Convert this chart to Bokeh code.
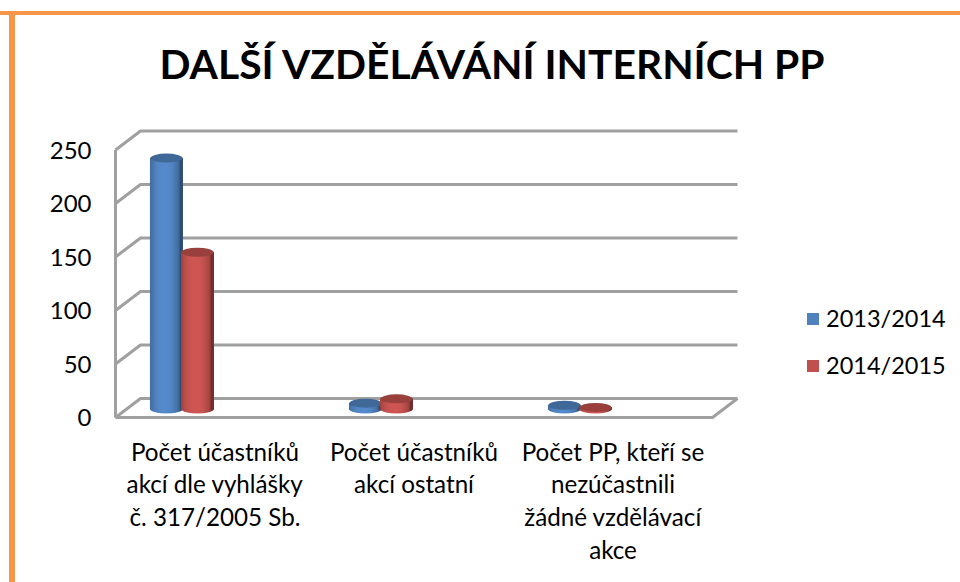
import math
from bokeh.plotting import figure
from bokeh.models import Range1d, Legend, LegendItem, Title, FixedTicker, ColumnDataSource
from bokeh.core.properties import value
from bokeh.embed import file_html
from bokeh.resources import INLINE

title_text = "DALŠÍ VZDĚLÁVÁNÍ INTERNÍCH PP"
categories = ["Počet účastníků\nakcí dle vyhlášky\nč. 317/2005 Sb.",
              "Počet účastníků\nakcí ostatní",
              "Počet PP, kteří se\nnezúčastnili\nžádné vzdělávací\nakce"]
series_names = ["2013/2014", "2014/2015"]
values_2013 = [234, 5, 3]
values_2014 = [146, 9, 1]
y_ticks = [0, 50, 100, 150, 200, 250]

BLUE = (79, 129, 189)
RED = (192, 80, 77)
GRID = "#a0a0a0"
FONT = "Lato"
ORANGE = "#F79646"

W, H = 960, 582
FL, FT = 97, 92            # frame left / top in canvas px
FW, FH = W - FL, H - FT
XPX, YPX = 199.0, 1.07     # px per category, px per unit
x0 = 214.5 - FL            # px of category 0 in the frame
y0 = 417 - FT              # px of value 0 in the frame
x_range = Range1d(-x0 / XPX, (FW - x0) / XPX)
y_range = Range1d(-(FH - y0) / YPX, y0 / YPX)

p = figure(width=W, height=H, x_range=x_range, y_range=y_range, output_backend="svg",
           toolbar_location=None, min_border_left=FL, min_border_right=0,
           min_border_top=FT, min_border_bottom=0, outline_line_color=None,
           border_fill_color=None, background_fill_color=None)
p.styles = {
    "background": f"linear-gradient({ORANGE},{ORANGE}) 0 11px/100% 4px no-repeat, "
                  f"linear-gradient({ORANGE},{ORANGE}) 9px 11px/6px 100% no-repeat",
}
p.grid.visible = False
p.xaxis.visible = False

ax = p.yaxis[0]
ax.ticker = FixedTicker(ticks=y_ticks)
ax.axis_line_color = None
ax.major_tick_line_color = None
ax.minor_tick_line_color = None
ax.major_label_text_font = FONT
ax.major_label_text_font_size = "24px"
ax.major_label_text_color = "#000000"
ax.major_label_standoff = 0

p.add_layout(Title(text=title_text, text_font=FONT, text_font_style="bold",
                   text_font_size="40.8px", text_color="#000000", align="left",
                   offset=62), "above")

dx, dy = 25 / XPX, 19 / YPX
xl, xr = -0.5, 2.5
xs, ys = [], []
for t in y_ticks:
    xs.append([xl, xl + dx, xr + dx]); ys.append([t, t + dy, t + dy])
xs.append([xl, xl]); ys.append([y_ticks[0], y_ticks[-1]])
xs.append([xl, xr, xr + dx]); ys.append([0, 0, dy])
p.multi_line(xs, ys, line_color=GRID, line_width=3)


def shade(rgb, f):
    return "#%02x%02x%02x" % tuple(min(255, int(c * f)) for c in rgb)


def cylinder(center, val, rgb):
    w, eh, base = 32 / XPX, 9 / YPX, 9 / YPX
    n = 32
    d = dict(left=[], right=[], top=[], bottom=[], color=[])
    for k in range(n):
        u0, u1 = -1 + 2 * k / n, -1 + 2 * (k + 1) / n
        um = (u0 + u1) / 2
        s = math.sqrt(max(0.0, 1 - um * um))
        d["left"].append(center + w / 2 * u0)
        d["right"].append(center + w / 2 * u1)
        d["top"].append(base + val)
        d["bottom"].append(base - eh / 2 * s)
        d["color"].append(shade(rgb, 0.60 + 0.48 * math.sqrt(max(0.0, 1 - (um + 0.1) ** 2))))
    p.quad(source=ColumnDataSource(d), left="left", right="right", top="top", bottom="bottom",
           fill_color="color", line_color="color", line_width=1)
    p.ellipse([center], [base + val], width=w, height=eh, fill_color=shade(rgb, 0.8), line_color=None)


for i in range(len(categories)):
    cylinder(i - 0.244, values_2013[i], BLUE)
    cylinder(i - 0.088, values_2014[i], RED)

p.text(list(range(len(categories))), [-17.8] * len(categories), text=categories,
       text_font=value(FONT), text_font_size="24.2px", text_align="center",
       text_baseline="top", text_line_height=1.13, text_color="#000000")

nan = float("nan")
r1 = p.quad(left=[nan], right=[nan], top=[nan], bottom=[nan], fill_color=shade(BLUE, 1), line_color=None)
r2 = p.quad(left=[nan], right=[nan], top=[nan], bottom=[nan], fill_color=shade(RED, 1), line_color=None)
legend = Legend(items=[LegendItem(label=series_names[0], renderers=[r1]),
                       LegendItem(label=series_names[1], renderers=[r2])],
                location=(708, 203), orientation="vertical", border_line_color=None,
                background_fill_alpha=0, padding=0, margin=0, spacing=19,
                glyph_width=15, glyph_height=15, label_standoff=6, label_height=25,
                label_text_font=FONT, label_text_font_size="23.5px", label_text_color="#000000")
p.add_layout(legend)

open("out.html", "w").write(file_html(p, INLINE))
